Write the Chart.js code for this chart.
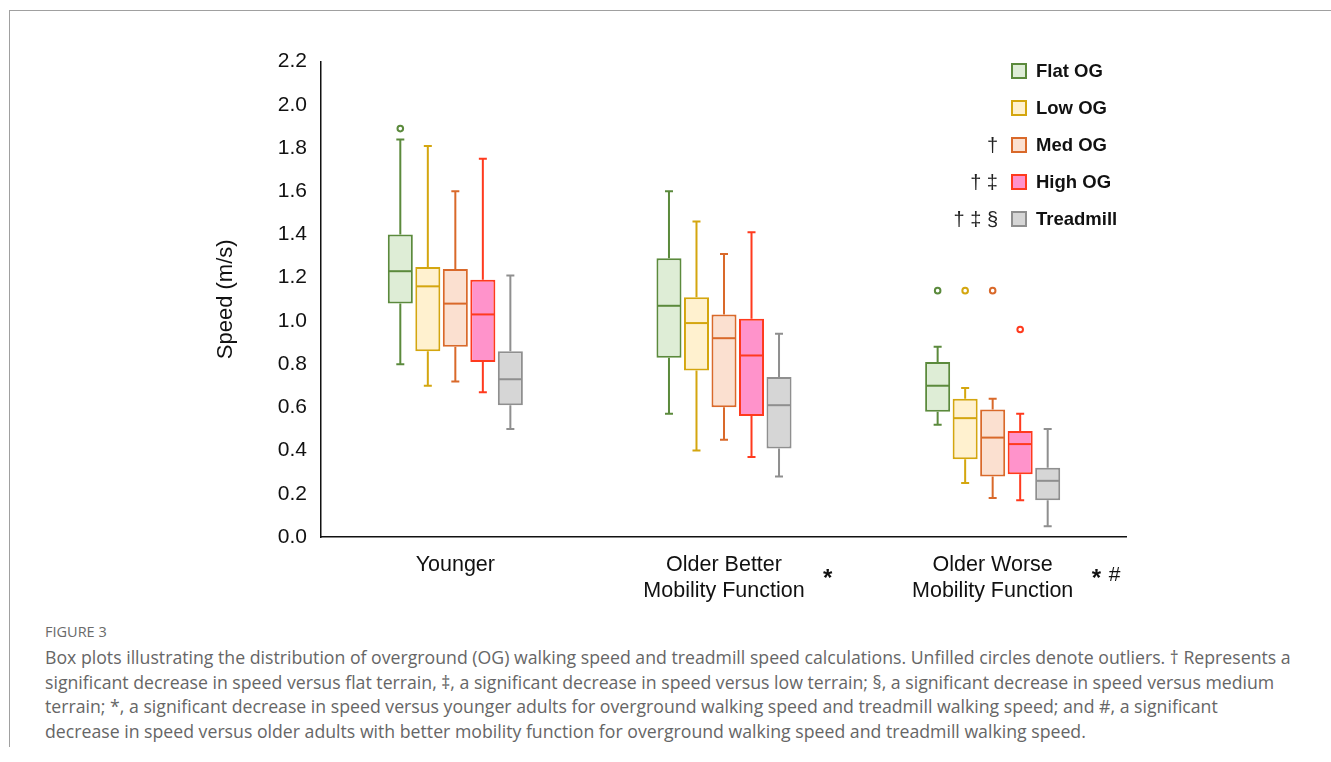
<!DOCTYPE html>
<html lang="en">
<head>
<meta charset="utf-8">
<title>Figure 3</title>
<script src="https://cdn.jsdelivr.net/npm/chart.js@4.4.1/dist/chart.umd.min.js"></script>
<style>
  html, body { margin: 0; padding: 0; background: #fff; }
  body { width: 1331px; height: 762px; position: relative; overflow: hidden; font-family: Arial, "Liberation Sans", sans-serif; }
  .kader { position: absolute; left: 9px; top: 10px; right: 0; height: 736px; border-top: 1px solid #a0a0a0; border-left: 1px solid #a0a0a0; }
  .grafiek { position: absolute; left: 200px; top: 35px; width: 927px; height: 575px; }
  .legenda-item { position: absolute; left: 0; height: 24px; width: 1331px; }
  .legenda-teken { position: absolute; left: 898px; width: 100px; text-align: right; font-size: 20px; line-height: 24px; color: #222; }
  .legenda-kleur { position: absolute; left: 1011px; top: 4px; width: 16px; height: 16px; box-sizing: border-box; border: 2px solid; }
  .legenda-tekst { position: absolute; left: 1036px; font-size: 18.5px; font-weight: bold; line-height: 24px; color: #111; }
  .onderschrift { position: absolute; left: 45px; top: 622px; font-family: "Open Sans", sans-serif; color: #666; white-space: nowrap; }
  .onderschrift .kop { font-size: 14.5px; line-height: 20px; color: #6a6a6a; margin-bottom: 3px; }
  .onderschrift .regel { font-size: 17.7px; line-height: 24.5px; }
</style>
</head>
<body>
<div class="kader"></div>
<div class="grafiek"><canvas id="grafiek-snelheid"></canvas></div>
<div id="legenda"></div>
<div class="onderschrift">
  <div class="kop">FIGURE 3</div>
  <div class="regel">Box plots illustrating the distribution of overground (OG) walking speed and treadmill speed calculations. Unfilled circles denote outliers. † Represents a</div>
  <div class="regel">significant decrease in speed versus flat terrain, ‡, a significant decrease in speed versus low terrain; §, a significant decrease in speed versus medium</div>
  <div class="regel">terrain; *, a significant decrease in speed versus younger adults for overground walking speed and treadmill walking speed; and #, a significant</div>
  <div class="regel">decrease in speed versus older adults with better mobility function for overground walking speed and treadmill walking speed.</div>
</div>
<script>
const groepen = [['Younger'], ['Older Better', 'Mobility Function'], ['Older Worse', 'Mobility Function']];
const groepSterren = ['', '*', '*'];
const groepHekjes = ['', '', '#'];
const reeksen = ['Flat OG', 'Low OG', 'Med OG', 'High OG', 'Treadmill'];
const reeksTekens = ['', '', '†', '† ‡', '† ‡ §'];
const randKleuren = ['#5b8a3c', '#d4a60f', '#d9692a', '#ff3a1e', '#8f8f8f'];
const vulKleuren = ['#deedd6', '#fff1cf', '#fbe0d0', '#ff93cb', '#d6d6d6'];

// per reeks: [Younger, Older Better, Older Worse]
const minima = [
  [0.80, 0.57, 0.52],
  [0.70, 0.40, 0.25],
  [0.72, 0.45, 0.18],
  [0.67, 0.37, 0.17],
  [0.50, 0.28, 0.05],
];
const kwartiel1 = [
  [1.08, 0.83, 0.58],
  [0.86, 0.77, 0.36],
  [0.88, 0.60, 0.28],
  [0.81, 0.56, 0.29],
  [0.61, 0.41, 0.17],
];
const medianen = [
  [1.23, 1.07, 0.70],
  [1.16, 0.99, 0.55],
  [1.08, 0.92, 0.46],
  [1.03, 0.84, 0.43],
  [0.73, 0.61, 0.26],
];
const kwartiel3 = [
  [1.40, 1.29, 0.81],
  [1.25, 1.11, 0.64],
  [1.24, 1.03, 0.59],
  [1.19, 1.01, 0.49],
  [0.86, 0.74, 0.32],
];
const maxima = [
  [1.84, 1.60, 0.88],
  [1.81, 1.46, 0.69],
  [1.60, 1.31, 0.64],
  [1.75, 1.41, 0.57],
  [1.21, 0.94, 0.50],
];
const uitschieters = [
  [1.89, null, 1.14],
  [null, null, 1.14],
  [null, null, 1.14],
  [null, null, 0.96],
  [null, null, null],
];
const yTicks = { min: 0, max: 2.2, stap: 0.2 };

const lettertype = 'Arial, "Liberation Sans", sans-serif';

function maakLegenda() {
  const element = document.getElementById('legenda');
  element.innerHTML = reeksen.map((naam, i) => `
    <div class="legenda-item" style="top:${59 + i * 37}px">
      <span class="legenda-teken">${reeksTekens[i]}</span>
      <span class="legenda-kleur" style="background:${vulKleuren[i]};border-color:${randKleuren[i]}"></span>
      <span class="legenda-tekst">${naam}</span>
    </div>`).join('');
}

const snorharen = {
  id: 'snorharen',
  beforeDatasetsDraw(chart) {
    const { ctx } = chart;
    const y = chart.scales.y;
    chart.data.datasets.forEach((dataset, r) => {
      chart.getDatasetMeta(r).data.forEach((staaf, g) => {
        const x = staaf.x;
        ctx.save();
        ctx.strokeStyle = randKleuren[r];
        ctx.lineWidth = 2;
        ctx.beginPath();
        ctx.moveTo(x, y.getPixelForValue(kwartiel3[r][g]));
        ctx.lineTo(x, y.getPixelForValue(maxima[r][g]));
        ctx.moveTo(x - 4, y.getPixelForValue(maxima[r][g]));
        ctx.lineTo(x + 4, y.getPixelForValue(maxima[r][g]));
        ctx.moveTo(x, y.getPixelForValue(kwartiel1[r][g]));
        ctx.lineTo(x, y.getPixelForValue(minima[r][g]));
        ctx.moveTo(x - 4, y.getPixelForValue(minima[r][g]));
        ctx.lineTo(x + 4, y.getPixelForValue(minima[r][g]));
        ctx.stroke();
        ctx.restore();
      });
    });
  },
  afterDatasetsDraw(chart) {
    const { ctx } = chart;
    const y = chart.scales.y;
    chart.data.datasets.forEach((dataset, r) => {
      chart.getDatasetMeta(r).data.forEach((staaf, g) => {
        const x = staaf.x;
        const half = staaf.width / 2;
        ctx.save();
        ctx.strokeStyle = randKleuren[r];
        ctx.lineWidth = 2;
        const ym = y.getPixelForValue(medianen[r][g]);
        ctx.beginPath();
        ctx.moveTo(x - half + 1, ym);
        ctx.lineTo(x + half - 1, ym);
        ctx.stroke();
        const uit = uitschieters[r][g];
        if (uit !== null) {
          ctx.beginPath();
          ctx.arc(x, y.getPixelForValue(uit), 2.8, 0, Math.PI * 2);
          ctx.fillStyle = '#fff';
          ctx.fill();
          ctx.stroke();
        }
        ctx.restore();
      });
    });
  },
  afterDraw(chart) {
    const { ctx } = chart;
    const x = chart.scales.x;
    const onder = chart.chartArea.bottom;
    ctx.save();
    ctx.fillStyle = '#111';
    ctx.textAlign = 'left';
    ctx.textBaseline = 'middle';
    groepSterren.forEach((teken, i) => {
      if (!teken) return;
      ctx.font = `bold 24px ${lettertype}`;
      ctx.fillText(teken, x.getPixelForTick(i) + 99, onder + 42);
    });
    groepHekjes.forEach((teken, i) => {
      if (!teken) return;
      ctx.font = `21px ${lettertype}`;
      ctx.fillText(teken, x.getPixelForTick(i) + 116, onder + 38);
    });
    ctx.restore();
  },
};

function tekenGrafiek() {
  const canvas = document.getElementById('grafiek-snelheid');
  const datasets = reeksen.map((naam, r) => ({
    label: naam,
    data: kwartiel1[r].map((q1, g) => [q1, kwartiel3[r][g]]),
    backgroundColor: vulKleuren[r],
    borderColor: randKleuren[r],
    borderWidth: 2,
    borderSkipped: false,
    categoryPercentage: 0.512,
    barPercentage: 0.91,
  }));

  new Chart(canvas, {
    type: 'bar',
    data: { labels: groepen, datasets },
    plugins: [snorharen],
    options: {
      responsive: true,
      maintainAspectRatio: false,
      animation: false,
      layout: { padding: { top: 20, right: 0, left: 0, bottom: 0 } },
      plugins: {
        legend: { display: false },
        tooltip: { enabled: false },
      },
      scales: {
        x: {
          grid: { display: false },
          border: { display: true, color: '#111', width: 1.5 },
          ticks: { color: '#111', font: { family: lettertype, size: 21.5 }, padding: 7, maxRotation: 0, autoSkip: false },
          afterFit: scale => { scale.height = 73; },
        },
        y: {
          min: yTicks.min,
          max: yTicks.max,
          grid: { display: false, drawTicks: false },
          border: { display: true, color: '#111', width: 1.5 },
          ticks: {
            stepSize: yTicks.stap,
            color: '#111',
            font: { family: lettertype, size: 21 },
            padding: 14,
            callback: waarde => Number(waarde).toFixed(1),
          },
          title: { display: true, text: 'Speed (m/s)', color: '#111', font: { family: lettertype, size: 22 }, padding: { top: 13, bottom: 0 } },
          afterFit: scale => { scale.width = 121; },
        },
      },
    },
  });
}

document.addEventListener('DOMContentLoaded', () => {
  maakLegenda();
  tekenGrafiek();
});
</script>
</body>
</html>
